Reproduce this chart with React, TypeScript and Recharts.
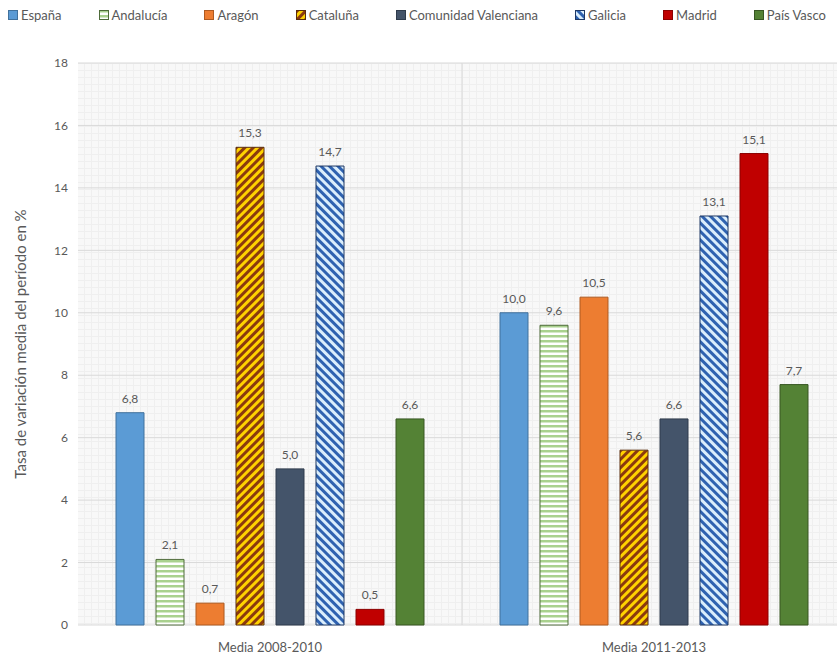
import React from 'react';
import { BarChart, Bar, XAxis, YAxis, CartesianGrid, LabelList } from 'recharts';

// periodos (categorias del eje X)
const periodos = ['Media 2008-2010', 'Media 2011-2013'];

// tasa de variacion media por comunidad, un valor por periodo
const espana = [6.8, 10.0];
const andalucia = [2.1, 9.6];
const aragon = [0.7, 10.5];
const cataluna = [15.3, 5.6];
const comValenciana = [5.0, 6.6];
const galicia = [14.7, 13.1];
const madrid = [0.5, 15.1];
const paisVasco = [6.6, 7.7];

const yTicks = [0, 2, 4, 6, 8, 10, 12, 14, 16, 18];
const yTitle = 'Tasa de variación media del período en %';

const series = [
  { key: 'espana', name: 'España', values: espana, fill: '#5b9bd5', stroke: '#41719c' },
  { key: 'andalucia', name: 'Andalucía', values: andalucia, fill: 'url(#patAnd)', stroke: '#4e6b3a' },
  { key: 'aragon', name: 'Aragón', values: aragon, fill: '#ed7d31', stroke: '#ae5a21' },
  { key: 'cataluna', name: 'Cataluña', values: cataluna, fill: 'url(#patCat)', stroke: '#5a2d0c' },
  { key: 'cv', name: 'Comunidad Valenciana', values: comValenciana, fill: '#44546a', stroke: '#2f3b4c' },
  { key: 'galicia', name: 'Galicia', values: galicia, fill: 'url(#patGal)', stroke: '#1f3864' },
  { key: 'madrid', name: 'Madrid', values: madrid, fill: '#c00000', stroke: '#8b0000' },
  { key: 'pv', name: 'País Vasco', values: paisVasco, fill: '#548235', stroke: '#385723' },
];

const data = periodos.map((p, i) => {
  const row: Record<string, any> = { periodo: p };
  series.forEach((s) => {
    row[s.key] = s.values[i];
  });
  return row;
});

const FONT = 'Lato, "Noto Sans", sans-serif';
const GRIS = '#595959';

const fmt = (v: any) => Number(v).toFixed(1).replace('.', ',');

const Patterns = () => (
  <svg width={0} height={0} style={{ position: 'absolute' }}>
    <defs>
      <pattern id="patBg" width={7} height={7} patternUnits="userSpaceOnUse">
        <rect width={7} height={7} fill="#f8f8f8" />
        <path d="M0 0.5H7M0.5 0V7" stroke="#efefef" strokeWidth={1} />
      </pattern>
      <pattern id="patAnd" width={5} height={5} patternUnits="userSpaceOnUse">
        <rect width={5} height={5} fill="#ffffff" />
        <rect width={5} height={2.5} fill="#a9d18e" />
      </pattern>
      <pattern id="patCat" width={6} height={6} patternUnits="userSpaceOnUse" patternTransform="rotate(45)">
        <rect width={6} height={6} fill="#ffd200" />
        <rect width={3} height={6} fill="#8b3a0e" />
      </pattern>
      <pattern id="patGal" width={6} height={6} patternUnits="userSpaceOnUse" patternTransform="rotate(-45)">
        <rect width={6} height={6} fill="#dbeefc" />
        <rect width={3} height={6} fill="#2f62b0" />
      </pattern>
    </defs>
  </svg>
);

const AxisTitle = (props: any) => {
  const vb = props.viewBox || { x: 0, y: 0, width: 0, height: 0 };
  const cx = vb.x + 22;
  const cy = vb.y + vb.height / 2;
  return (
    <text
      x={cx}
      y={cy}
      transform={`rotate(-90, ${cx}, ${cy})`}
      textAnchor="middle"
      dominantBaseline="middle"
      fontSize={15}
      fill={GRIS}
      fontFamily={FONT}
    >
      {yTitle}
    </text>
  );
};

const Leyenda = () => (
  <div
    style={{
      position: 'absolute',
      left: 8,
      top: 6,
      width: 818,
      height: 18,
      display: 'flex',
      justifyContent: 'space-between',
      alignItems: 'center',
      fontFamily: FONT,
      fontSize: 13,
      color: GRIS,
    }}
  >
    {series.map((s) => (
      <div key={s.key} style={{ display: 'flex', alignItems: 'center' }}>
        <svg width={10} height={10} style={{ marginRight: 3 }}>
          <rect x={0.5} y={0.5} width={9} height={9} fill={s.fill} stroke={s.stroke} />
        </svg>
        <span>{s.name}</span>
      </div>
    ))}
  </div>
);

export default function App() {
  return (
    <div style={{ position: 'absolute', left: 0, top: 0, width: 837, height: 658, overflow: 'hidden', background: '#fff' }}>
      <Patterns />
      <Leyenda />
      <BarChart
        width={846}
        height={658}
        data={data}
        margin={{ top: 63, right: 0, left: 0, bottom: 3 }}
        barSize={28}
        barGap={12}
      >
        <CartesianGrid
          stroke="#d9d9d9"
          fill="url(#patBg)"
          fillOpacity={1}
          verticalCoordinatesGenerator={({ offset }: any) => [offset.left + offset.width / 2]}
        />
        <XAxis
          dataKey="periodo"
          axisLine={false}
          tickLine={false}
          tickMargin={12}
          tick={{ fontSize: 13, fill: GRIS, fontFamily: FONT }}
        />
        <YAxis
          width={78}
          domain={[0, 18]}
          ticks={yTicks}
          axisLine={false}
          tickLine={false}
          tickMargin={4}
          tick={{ fontSize: 12, fill: GRIS, fontFamily: FONT }}
          label={<AxisTitle />}
        />
        {series.map((s) => (
          <Bar
            key={s.key}
            dataKey={s.key}
            name={s.name}
            fill={s.fill}
            stroke={s.stroke}
            strokeWidth={1}
            isAnimationActive={false}
          >
            <LabelList
              dataKey={s.key}
              position="top"
              offset={10}
              formatter={fmt}
              style={{ fontSize: 12, fill: GRIS, fontFamily: FONT }}
            />
          </Bar>
        ))}
      </BarChart>
    </div>
  );
}
